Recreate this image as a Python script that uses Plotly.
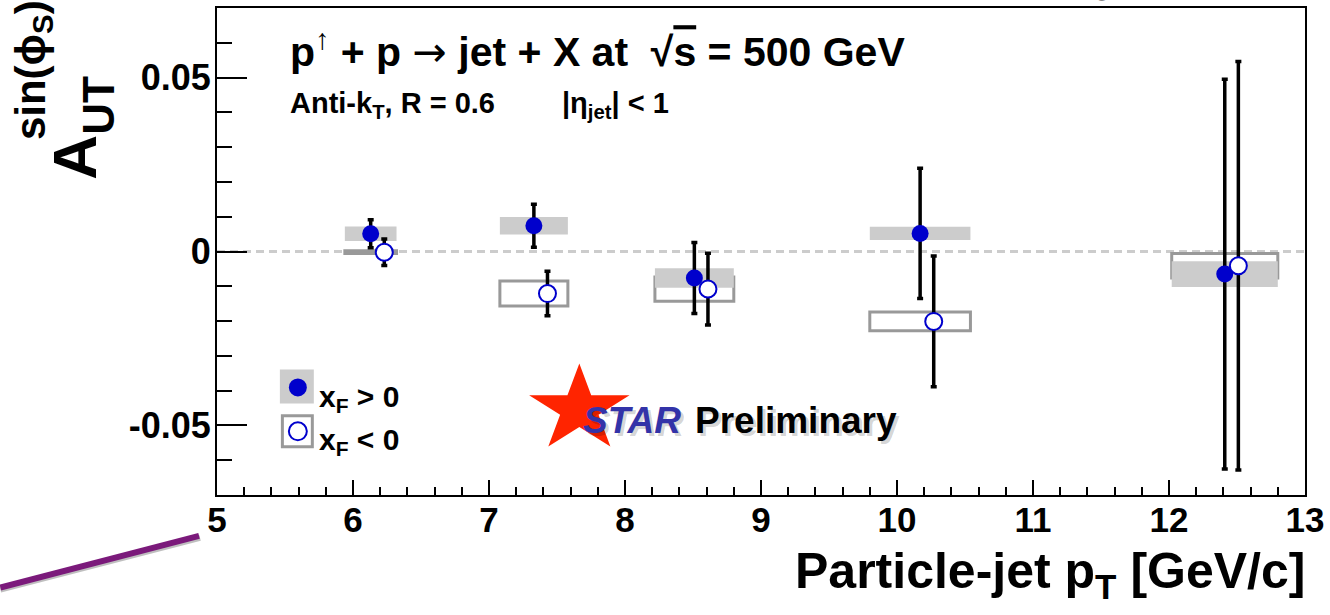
import math
import plotly.graph_objects as go

# ---------------- data ----------------
bin_x = [6.13, 7.33, 8.51, 10.17, 12.41]          # bin centres (x_F > 0 points)
box_halfwidth = [0.19, 0.25, 0.29, 0.37, 0.39]     # half widths of systematic boxes
pos_y = [0.0051, 0.0074, -0.0076, 0.0052, -0.0065]
pos_stat = [0.0040, 0.0062, 0.0102, 0.0187, 0.0560]
pos_sys = [0.0021, 0.0025, 0.0028, 0.0019, 0.0037]

neg_x = [6.23, 7.43, 8.61, 10.27, 12.51]
neg_y = [-0.0002, -0.0121, -0.0108, -0.0201, -0.0041]
neg_stat = [0.0038, 0.0064, 0.0103, 0.0188, 0.0587]
neg_sys = [0.0004, 0.0036, 0.0035, 0.0027, 0.0035]

x_range = [5, 13]
y_range = [-0.07, 0.07]
y_tickvals = [-0.05, 0, 0.05]
y_ticktext = ["-0.05", "0", "0.05"]

FONT = "Liberation Sans, Arial, Helvetica, sans-serif"
BLUE = "#0000cc"
W, H = 1330, 615
L, R, T, B = 217, 23, 6, 120
PW, PH = W - L - R, H - T - B


def px(xp):
    return (xp - L) / PW


def py(yp):
    return (H - B - yp) / PH


fig = go.Figure()

shapes = []
# zero line
shapes.append(dict(type="line", xref="x", yref="y", x0=x_range[0], x1=x_range[1], y0=0, y1=0,
                   line=dict(color="#cccccc", width=3, dash="8px,5px"), layer="below"))
# x_F < 0 systematic boxes (outline)
for xc, hw, yc, s in zip(bin_x, box_halfwidth, neg_y, neg_sys):
    shapes.append(dict(type="rect", xref="x", yref="y", x0=xc - hw, x1=xc + hw, y0=yc - s, y1=yc + s,
                       line=dict(color="#999999", width=3), fillcolor="rgba(0,0,0,0)", layer="below"))
# x_F > 0 systematic boxes (filled)
for xc, hw, yc, s in zip(bin_x, box_halfwidth, pos_y, pos_sys):
    shapes.append(dict(type="rect", xref="x", yref="y", x0=xc - hw, x1=xc + hw, y0=yc - s, y1=yc + s,
                       line=dict(width=0), fillcolor="#cccccc", layer="below"))

fig.add_trace(go.Scatter(
    x=bin_x, y=pos_y, mode="markers",
    marker=dict(color=BLUE, size=17, line=dict(width=0)),
    error_y=dict(type="data", array=pos_stat, symmetric=True, color="black", thickness=3.5, width=3),
    showlegend=False))
fig.add_trace(go.Scatter(
    x=neg_x, y=neg_y, mode="markers",
    marker=dict(color="white", size=17, line=dict(color=BLUE, width=2)),
    error_y=dict(type="data", array=neg_stat, symmetric=True, color="black", thickness=3.5, width=3),
    showlegend=False))

# ---------- legend (drawn manually) ----------
shapes.append(dict(type="rect", xref="paper", yref="paper", x0=px(280), x1=px(314), y0=py(403), y1=py(369),
                   line=dict(width=0), fillcolor="#cccccc", layer="above"))
shapes.append(dict(type="circle", xref="paper", yref="paper", x0=px(289), x1=px(307), y0=py(396), y1=py(378),
                   line=dict(width=0), fillcolor=BLUE, layer="above"))
shapes.append(dict(type="rect", xref="paper", yref="paper", x0=px(282.5), x1=px(312.5), y0=py(446.5), y1=py(415.5),
                   line=dict(color="#999999", width=3), fillcolor="white", layer="above"))
shapes.append(dict(type="circle", xref="paper", yref="paper", x0=px(289), x1=px(307), y0=py(440), y1=py(422),
                   line=dict(color=BLUE, width=2), fillcolor="white", layer="above"))

# ---------- STAR logo star ----------
cx, cy, Ro, Ri, sx = 580, 409, 46, 17.6, 1.15
pts = []
for k in range(10):
    ang = math.pi / 2 + k * math.pi / 5
    rr = Ro if k % 2 == 0 else Ri
    pts.append((px(cx + sx * rr * math.cos(ang)), py(cy - rr * math.sin(ang))))
path = "M " + " L ".join(f"{a:.5f},{b:.5f}" for a, b in pts) + " Z"
shapes.append(dict(type="path", xref="paper", yref="paper", path=path,
                   fillcolor="#ff2400", line=dict(width=0), layer="above"))

# ---------- purple decorative line ----------
shapes.append(dict(type="line", xref="paper", yref="paper", x0=px(0), x1=px(200), y0=py(590), y1=py(538),
                   line=dict(color="rgba(0,0,0,0.25)", width=6), layer="above"))
shapes.append(dict(type="line", xref="paper", yref="paper", x0=px(0), x1=px(199), y0=py(588), y1=py(536),
                   line=dict(color="#7b1a7b", width=6), layer="above"))

ann = []


def text(t, x, y, size, xanchor="left", yanchor="middle", color="black", weight="bold", style="normal", angle=0):
    ann.append(dict(text=t, xref="paper", yref="paper", x=px(x), y=py(y), xanchor=xanchor, yanchor=yanchor,
                    showarrow=False, textangle=angle,
                    font=dict(family=FONT, size=size, color=color, weight=weight, style=style)))


# titles inside the frame
text("p<sup>↑</sup> + p <span style='font-family:DejaVu Sans;font-weight:normal'>→</span> jet + X at  √"
     "<span style='text-decoration:overline'>s</span> = 500 GeV", 288, 48, 41)
text("Anti-k<sub>T</sub>, R = 0.6", 288, 103, 29)
text("|η<sub>jet</sub>| < 1", 561, 103, 29)

# legend texts
text("x<sub>F</sub> > 0", 317, 398, 30)
text("x<sub>F</sub> < 0", 317, 441, 30)

# STAR Preliminary
text("STAR", 585, 423, 37, color="rgba(0,0,0,0.18)", style="italic")
text("Preliminary", 697, 423, 37, color="rgba(0,0,0,0.18)")
text("STAR", 582, 420, 37, color="#3333a8", style="italic")
text("Preliminary", 694, 420, 37)

# axis titles
text("Particle-jet p<sub>T</sub> [GeV/c]", 1309, 575, 50, xanchor="right")
text("A", 74, 156, 62, xanchor="center", yanchor="middle", angle=-90)
text("UT", 98, 104, 44, xanchor="center", yanchor="middle", angle=-90)
text("sin(ϕ<sub>S</sub>)", 33, 68, 42, xanchor="center", yanchor="middle", angle=-90)

# clipped fragment at the top
text("g,", 1096, -14, 22, color="#888888", weight="normal", yanchor="middle")

fig.update_layout(
    width=W, height=H, margin=dict(l=L, r=R, t=T, b=B, pad=0),
    paper_bgcolor="white", plot_bgcolor="white",
    shapes=shapes, annotations=ann, showlegend=False,
    xaxis=dict(range=x_range, tickmode="linear", tick0=5, dtick=1, ticks="inside", ticklen=15, tickwidth=2,
               tickcolor="black", showline=True, linewidth=2, linecolor="black", mirror=True,
               showgrid=False, zeroline=False, ticklabelstandoff=-7,
               tickfont=dict(family=FONT, size=35, color="black", weight="bold"),
               minor=dict(tickmode="linear", tick0=5, dtick=0.2, ticks="inside", ticklen=8, tickwidth=2,
                          tickcolor="black", showgrid=False)),
    yaxis=dict(range=y_range, tickmode="array", tickvals=y_tickvals, ticktext=y_ticktext, ticks="inside",
               ticklen=30, tickwidth=2, tickcolor="black", showline=True, linewidth=2, linecolor="black",
               mirror=True, showgrid=False, zeroline=False, ticklabelstandoff=-3,
               tickfont=dict(family=FONT, size=36, color="black", weight="bold"),
               minor=dict(tickmode="linear", tick0=0, dtick=0.01, ticks="inside", ticklen=15, tickwidth=2,
                          tickcolor="black", showgrid=False)),
)

fig.write_html("out.html", config={"displayModeBar": False},
               post_script="document.body.style.margin='0px';document.body.style.overflow='hidden';")
